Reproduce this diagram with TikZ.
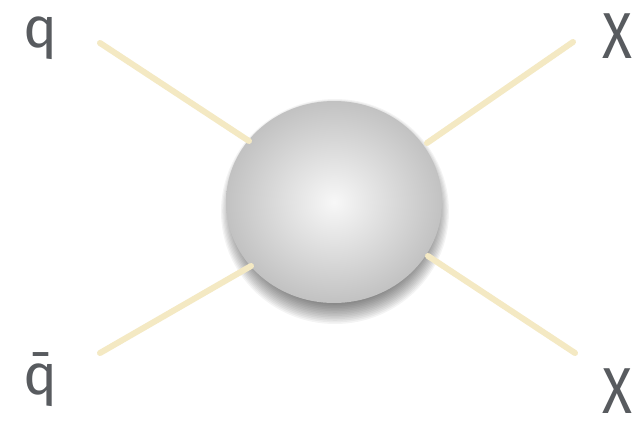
\documentclass[tikz,border=0pt]{standalone}
\usepackage{fontspec}
\setmainfont{Fira Sans}
\begin{document}
\begin{tikzpicture}[x=1pt,y=-1pt,
  leg/.style={draw=legcol,line width=6pt,line cap=round},
  lbl/.style={text=labcol,inner sep=0pt,anchor=base},
  qlbl/.style={lbl,font=\fontsize{57}{57}\selectfont},
  xlbl/.style={lbl,font=\fontsize{65}{65}\selectfont,xscale=0.85}]
\definecolor{legcol}{RGB}{244,233,195}
\definecolor{labcol}{RGB}{88,91,95}
\useasboundingbox[fill=white] (0,0) rectangle (643,423);
% shadow
\foreach \i in {0,...,15}{
  \fill[black,opacity=0.045] (335,{207+\i*0.3}) ellipse ({96+\i*1.2} and {93+\i*1.3});
}
% ball
\shade[inner color=white!97!black,outer color=black!24] (334,202) ellipse (108 and 101);
\node[coordinate] (ball) at (334,202) {};
% leg endpoints
\coordinate (a1) at (100,43);
\coordinate (a2) at (249,141);
\coordinate (b1) at (100,353);
\coordinate (b2) at (251,266);
\coordinate (c1) at (573,42);
\coordinate (c2) at (427,143);
\coordinate (d1) at (575,353);
\coordinate (d2) at (428,256);
\draw[leg] (a1) -- (a2);
\draw[leg] (b1) -- (b2);
\draw[leg] (c1) -- (c2);
\draw[leg] (d1) -- (d2);
\node[qlbl] (q) at (41,47) {q};
\node[qlbl] (qb) at (41,394) {q̄};
\node[xlbl] (x1) at (617,58) {X};
\node[xlbl] (x2) at (617,413) {X};
\end{tikzpicture}
\end{document}
